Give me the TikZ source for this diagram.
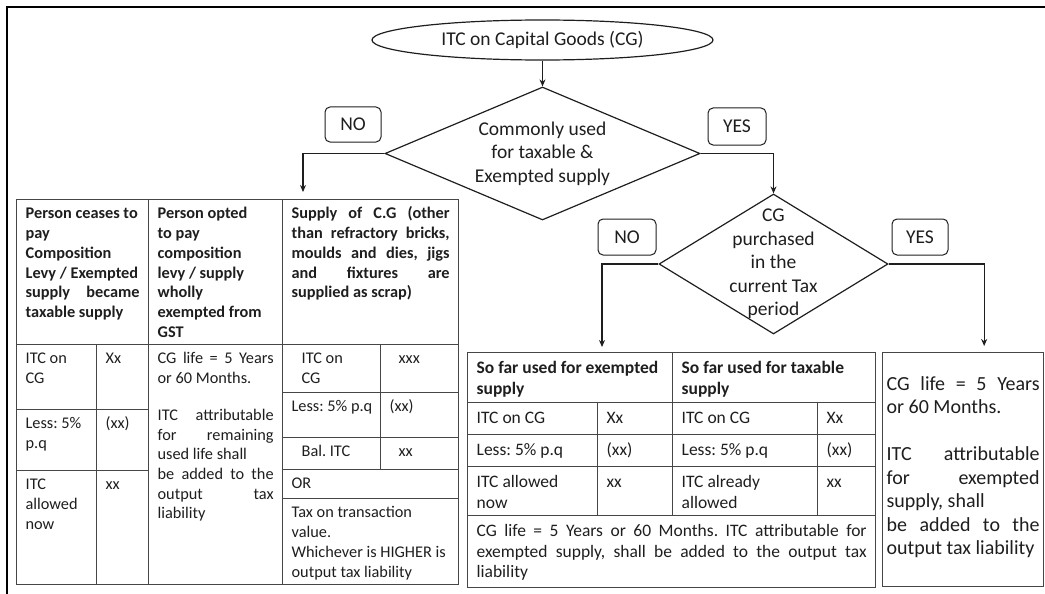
\documentclass[tikz,border=0pt]{standalone}
\usepackage{fontspec}
\setmainfont{Carlito}
\usepackage{xcolor}
\definecolor{InkBlack}{RGB}{30,30,30}
\definecolor{RuleGray}{RGB}{70,70,70}
\usepackage{tikz}
\usetikzlibrary{
  shapes, shapes.geometric,
  arrows, arrows.meta,
  positioning, calc
}
\frenchspacing
% top-aligned text block of a table cell: width, height, text
\newcommand{\cellbox}[3]{\parbox[t][#2pt][t]{#1pt}{\sloppy\strut#3}}
\tikzset{
  % Start ellipse
  startell/.style={
    ellipse, draw=InkBlack, line width=1.2pt,
    minimum width=341pt, minimum height=40pt, inner sep=0pt,
    font=\fontsize{19.5}{23.5}\selectfont, text=InkBlack
  },
  % Decision diamond (its text sits in a centred label)
  decision/.style={
    diamond, draw=InkBlack, line width=1.2pt, inner sep=0pt
  },
  dtext/.style={
    align=center, inner sep=0pt,
    font=\fontsize{19.5}{23.5}\selectfont, text=InkBlack
  },
  % NO / YES tags
  tag/.style={
    rectangle, rounded corners=5pt, draw=InkBlack, line width=1pt,
    inner sep=0pt, font=\fontsize{19.5}{23.5}\selectfont, text=InkBlack
  },
  % Table cells
  cell/.style={
    rectangle, draw=RuleGray, line width=1.3pt, anchor=north west,
    inner xsep=9pt, inner ysep=5.5pt, text=InkBlack,
    font=\fontsize{16.3}{19.7}\selectfont
  },
  cell head/.style={cell, font=\fontsize{16.3}{19.7}\selectfont\bfseries},
  mcell/.style={cell, inner ysep=7pt, font=\fontsize{17.5}{20.3}\selectfont},
  mcell head/.style={mcell, font=\fontsize{17.5}{20.3}\selectfont\bfseries},
  rcell/.style={cell, inner xsep=4pt, inner ysep=21pt,
    font=\fontsize{20}{23.5}\selectfont},
  % Arrows
  arr/.style={-{Stealth[length=7pt,width=6pt]}, line width=1.2pt, InkBlack},
  frame/.style={line width=2.5pt, black},
}

\begin{document}
\begin{tikzpicture}[x=1pt, y=-1pt]
  \useasboundingbox (0,0) rectangle (1045,594);
  \draw[frame] (7,594) -- (7,7) -- (1045,7);

  % Flow part
  \node[startell] (cg) at (542.5,40) {ITC on Capital Goods (CG)};
  \node[decision, minimum width=315pt, minimum height=133pt,
    label={[dtext]center:Commonly used\\for taxable \&\\Exempted supply}] (common) at (542.5,153.5) {};
  \node[decision, minimum width=229pt, minimum height=140pt,
    label={[dtext]center:CG\\purchased\\in the\\current Tax\\period}] (purchased) at (773.5,264) {};
  \node[tag, minimum width=56pt, minimum height=35pt] (no1) at (353,124.5) {NO};
  \node[tag, minimum width=58pt, minimum height=37pt] (yes1) at (737,126.5) {YES};
  \node[tag, minimum width=58pt, minimum height=36pt] (no2) at (627,237) {NO};
  \node[tag, minimum width=56pt, minimum height=36pt] (yes2) at (920,237) {YES};

  % Left table
  \node[cell head] (l1h) at (16,199) {\cellbox{114}{134}{Person ceases to\newline pay\newline Composition\newline Levy / Exempted\newline supply became\linebreak taxable supply}};
  \node[cell] (l1a) at (16,344) {\cellbox{62}{54}{ITC on\newline CG}};
  \node[cell] (l1av) at (96,344) {\cellbox{34}{54}{Xx}};
  \node[cell] (l1b) at (16,409) {\cellbox{62}{50}{Less: 5\%\newline p.q}};
  \node[cell] (l1bv) at (96,409) {\cellbox{34}{50}{(xx)}};
  \node[cell] (l1c) at (16,470) {\cellbox{62}{103}{ITC\newline allowed\newline now}};
  \node[cell] (l1cv) at (96,470) {\cellbox{34}{103}{xx}};

  \node[cell head] (l2h) at (148,199) {\cellbox{116}{134}{Person opted\newline to pay\newline composition\newline levy / supply\newline wholly\newline exempted from\newline GST}};
  \node[cell] (l2b) at (148,344) {\cellbox{116}{229}{CG life = 5 Years\linebreak or 60 Months.\par\vspace{17pt}ITC attributable\linebreak for remaining\linebreak used life shall\newline be added to the\linebreak output tax\linebreak liability}};

  \node[cell head] (l3h) at (282,199) {\cellbox{158}{134}{Supply of C.G (other\linebreak than refractory bricks,\linebreak moulds and dies, jigs\linebreak and fixtures are\linebreak supplied as scrap)}};
  \node[cell] (l3a) at (282,344) {\cellbox{80}{37}{\hspace*{10pt}ITC on\newline\hspace*{10pt}CG}};
  \node[cell] (l3av) at (380,344) {\cellbox{60}{37}{\hspace*{9pt}xxx}};
  \node[cell] (l3b) at (282,392) {\cellbox{80}{34}{\mbox{Less: 5\% p.q}}};
  \node[cell] (l3bv) at (380,392) {\cellbox{60}{34}{(xx)}};
  \node[cell] (l3c) at (282,437) {\cellbox{80}{21}{\hspace*{10pt}Bal. ITC}};
  \node[cell] (l3cv) at (380,437) {\cellbox{60}{21}{\hspace*{9pt}xx}};
  \node[cell] (l3d) at (282,469) {\cellbox{158}{18}{OR}};
  \node[cell] (l3e) at (282,498) {\cellbox{158}{75}{Tax on transaction\newline value.\newline Whichever is HIGHER is\newline output tax liability}};

  % Middle table
  \node[mcell head] (mh1) at (467,352) {\cellbox{187}{36}{So far used for exempted\newline supply}};
  \node[mcell head] (mh2) at (672,352) {\cellbox{185}{36}{So far used for taxable\newline supply}};
  \node[mcell] (ma) at (467,402) {\cellbox{112}{18}{ITC on CG}};
  \node[mcell] (mav) at (597,402) {\cellbox{57}{18}{Xx}};
  \node[mcell] (mb) at (672,402) {\cellbox{127}{18}{ITC on CG}};
  \node[mcell] (mbv) at (817,402) {\cellbox{40}{18}{Xx}};
  \node[mcell] (mc) at (467,434) {\cellbox{112}{18}{Less: 5\% p.q}};
  \node[mcell] (mcv) at (597,434) {\cellbox{57}{18}{(xx)}};
  \node[mcell] (md) at (672,434) {\cellbox{127}{18}{Less: 5\% p.q}};
  \node[mcell] (mdv) at (817,434) {\cellbox{40}{18}{(xx)}};
  \node[mcell] (me) at (467,466) {\cellbox{112}{35}{ITC allowed\newline now}};
  \node[mcell] (mev) at (597,466) {\cellbox{57}{35}{xx}};
  \node[mcell] (mf) at (672,466) {\cellbox{127}{35}{ITC already\newline allowed}};
  \node[mcell] (mfv) at (817,466) {\cellbox{40}{35}{xx}};
  \node[mcell] (mfoot) at (467,515) {\cellbox{390}{58}{CG life = 5 Years or 60 Months. ITC attributable for\linebreak exempted supply, shall be added to the output tax\linebreak liability}};

  % Right box
  \node[rcell] (rb) at (882,352) {\cellbox{153}{192}{CG life = 5 Years\linebreak or 60 Months.\par\vspace{23.5pt}ITC attributable\linebreak for exempted\linebreak supply, shall\newline be added to the\linebreak output tax liability}};

  % Connectors
  \draw[arr] (cg) -- (common);
  \draw[arr, shorten >=7pt] (common.west) -| ([xshift=21pt]l3h.north west);
  \draw[arr] (common.east) -| (purchased.north);
  \draw[arr, shorten >=5pt] (purchased.west) -| ([xshift=135pt]mh1.north west);
  \draw[arr, shorten >=6pt] (purchased.east) -| ([xshift=21pt]rb.north);
\end{tikzpicture}
\end{document}
